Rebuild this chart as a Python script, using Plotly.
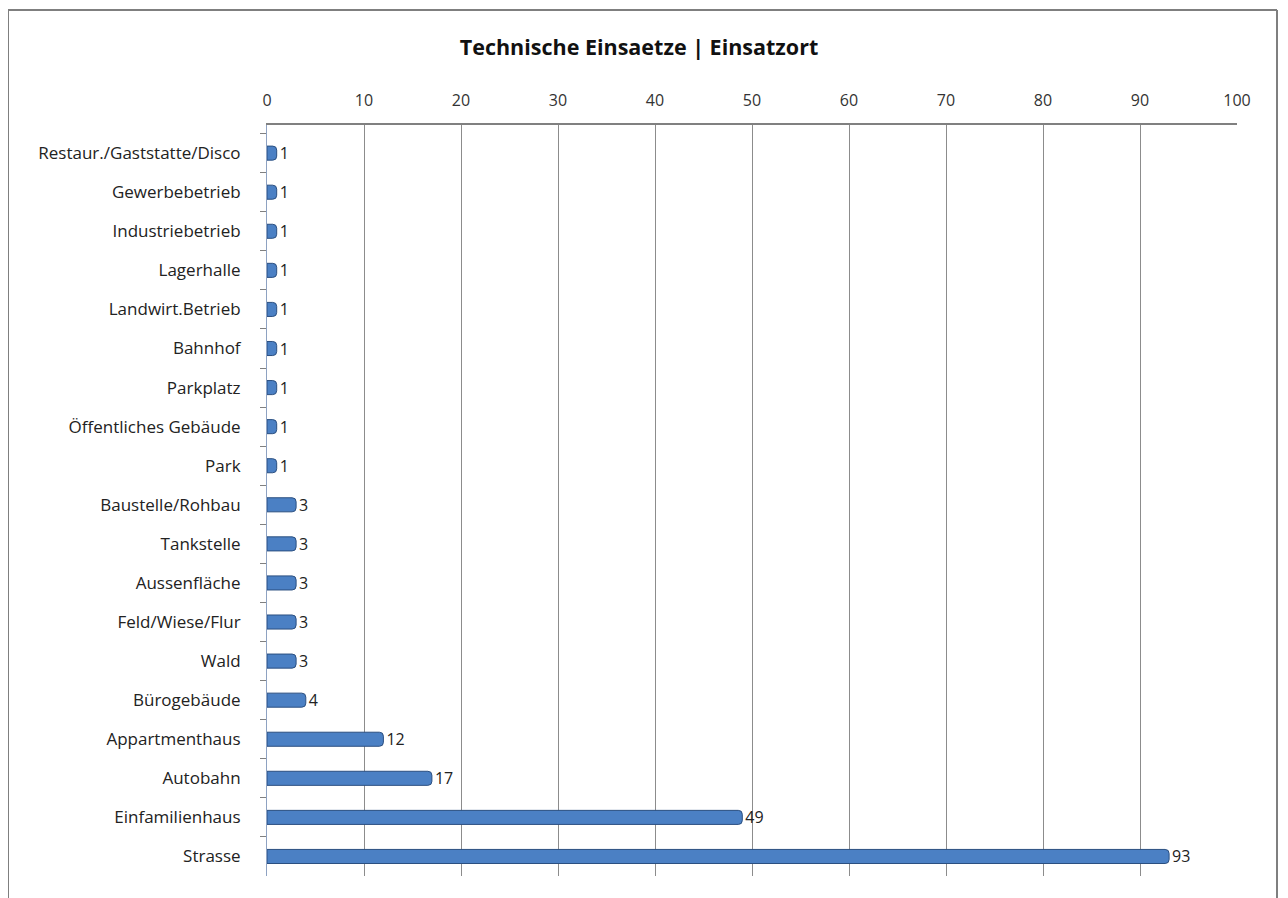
import plotly.graph_objects as go

categories = [
    "Restaur./Gaststatte/Disco", "Gewerbebetrieb", "Industriebetrieb", "Lagerhalle",
    "Landwirt.Betrieb", "Bahnhof", "Parkplatz", "Öffentliches Gebäude", "Park",
    "Baustelle/Rohbau", "Tankstelle", "Aussenfläche", "Feld/Wiese/Flur", "Wald",
    "Bürogebäude", "Appartmenthaus", "Autobahn", "Einfamilienhaus", "Strasse",
]
values = [1, 1, 1, 1, 1, 1, 1, 1, 1, 3, 3, 3, 3, 3, 4, 12, 17, 49, 93]
x_ticks = [0, 10, 20, 30, 40, 50, 60, 70, 80, 90, 100]

font_family = "Open Sans, Noto Sans, sans-serif"

W, H = 1280, 890
L, R, T, B = 259, 51, 117, 22
PW = W - L - R
PH = H - T - B

fig = go.Figure()
fig.add_trace(go.Bar(
    x=values,
    y=categories,
    orientation="h",
    width=0.36,
    marker=dict(color="#4b80c4", line=dict(color="#2b4f80", width=1), cornerradius=4),
    text=[str(v) for v in values],
    textposition="outside",
    constraintext="none",
    textfont=dict(size=16, color="#222222", family=font_family),
    cliponaxis=False,
    hoverinfo="x+y",
))

fig.update_layout(
    width=W,
    height=H,
    paper_bgcolor="white",
    plot_bgcolor="white",
    margin=dict(l=L, r=R, t=T, b=B),
    showlegend=False,
    title=dict(
        text="<b>Technische Einsaetze | Einsatzort</b>",
        x=631 / W, xanchor="center", xref="container",
        y=1 - 39 / H, yanchor="middle", yref="container",
        font=dict(size=21.5, color="#111111", family=font_family),
    ),
    font=dict(family=font_family, color="#222222"),
)

fig.update_xaxes(
    side="top",
    range=[0, 100],
    tickvals=x_ticks,
    ticktext=[str(t) for t in x_ticks],
    tickfont=dict(size=16, color="#333333"),
    showgrid=True,
    gridcolor="#8c8c8c",
    gridwidth=1,
    showline=True,
    linecolor="#808080",
    linewidth=2,
    ticks="outside",
    ticklen=0,
    ticklabelstandoff=11,
    zeroline=False,
    mirror=False,
)

fig.update_yaxes(
    categoryorder="array",
    categoryarray=categories,
    range=[18.5, -0.72],
    tickfont=dict(size=17, color="#222222"),
    showline=True,
    linecolor="#8ea2c2",
    linewidth=1,
    ticks="outside",
    tickson="boundaries",
    ticklen=6,
    tickcolor="#808080",
    ticklabelstandoff=22,
    showgrid=False,
)

# outer chart frame (left, top, right edges)
x_left = -L / PW
x_right = (1269 - L) / PW
y_top = (T + PH - 2) / PH
y_bot = -B / PH
for x0, x1, y0, y1 in [
    (x_left, x_left, y_bot, y_top),
    (x_left, x_right, y_top, y_top),
    (x_right, x_right, y_bot, y_top),
]:
    fig.add_shape(type="line", xref="paper", yref="paper",
                  x0=x0, x1=x1, y0=y0, y1=y1,
                  line=dict(color="#7f7f7f", width=2))

fig.write_html("out.html")
